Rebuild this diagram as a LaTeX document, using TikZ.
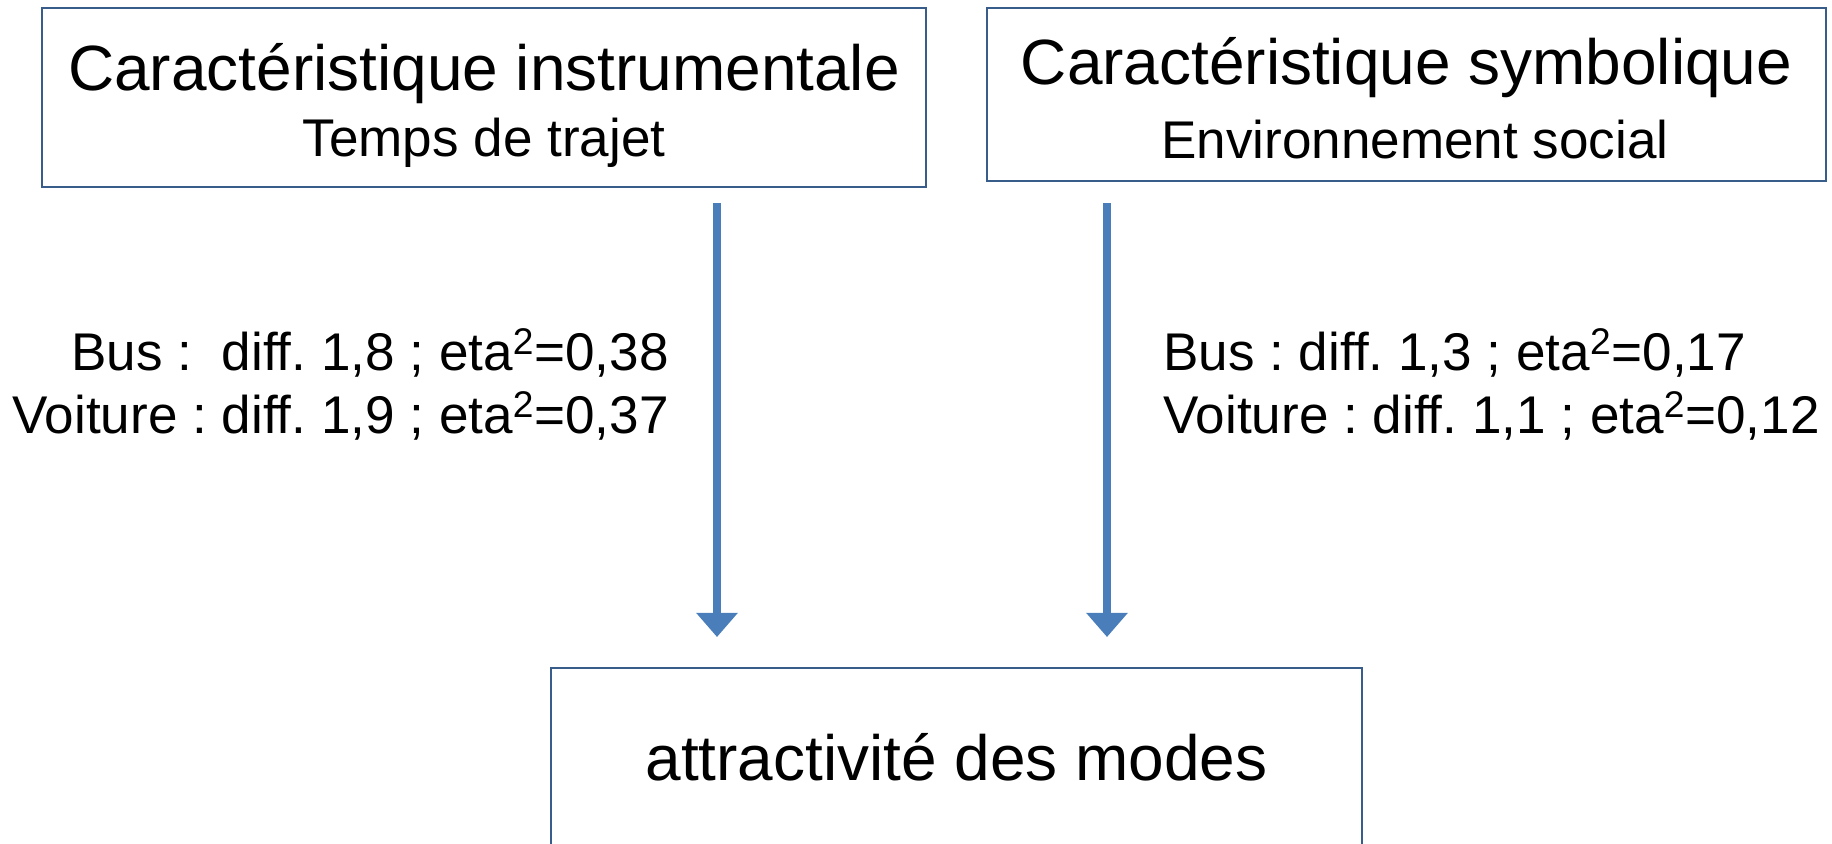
\documentclass[tikz,border=0pt]{standalone}
\usepackage{fontspec}
\setmainfont{Liberation Sans}
\usetikzlibrary{arrows.meta}
\definecolor{boxblue}{RGB}{56, 93, 138}
\definecolor{arrowblue}{RGB}{74, 126, 187}

\begin{document}
\frenchspacing
\begin{tikzpicture}[x=0.02cm, y=-0.02cm,
    box/.style={draw=boxblue, line width=1.3pt, inner sep=0pt, outer sep=0pt},
    big/.style={inner sep=0pt, anchor=base, font=\fontsize{36.4}{40}\selectfont},
    small/.style={inner sep=0pt, anchor=base, font=\fontsize{30.2}{34}\selectfont},
    flow/.style={draw=arrowblue, line width=4.6pt, -{Triangle[width=22.8pt, length=13.7pt]}}]
    \useasboundingbox (0,0) rectangle (1832,843);

    \node[box, minimum width=17.68cm, minimum height=3.58cm] (instr) at (484,97.5) {};
    \node[box, minimum width=16.78cm, minimum height=3.46cm] (symb) at (1406.5,94.5) {};
    \node[box, minimum width=16.22cm, minimum height=3.64cm] (attr) at (956.5,759) {};

    \node[big] (instrT) at (484,90) {Caractéristique instrumentale};
    \node[small] (instrS) at (484,156) {Temps de trajet};
    \node[big] (symbT) at (1406.5,84) {Caractéristique symbolique};
    \node[small] (symbS) at (1415,158) {Environnement social};
    \node[big] (attrT) at (956.5,780) {attractivité des modes};

    \node[small, anchor=base east] (bus1) at (669,370) {Bus :~ diff. 1,8 ; eta\textsuperscript{2}=0,38};
    \node[small, anchor=base east] (car1) at (669,433) {Voiture : diff. 1,9 ; eta\textsuperscript{2}=0,37};
    \node[small, anchor=base west] (bus2) at (1163,370) {Bus : diff. 1,3 ; eta\textsuperscript{2}=0,17};
    \node[small, anchor=base west] (car2) at (1163,433) {Voiture : diff. 1,1 ; eta\textsuperscript{2}=0,12};

    \coordinate (instrOut) at (717,203);
    \coordinate (instrIn) at (717,637);
    \coordinate (symbOut) at (1107,203);
    \coordinate (symbIn) at (1107,637);
    \draw[flow] (instrOut) -- (instrIn);
    \draw[flow] (symbOut) -- (symbIn);
\end{tikzpicture}
\end{document}
